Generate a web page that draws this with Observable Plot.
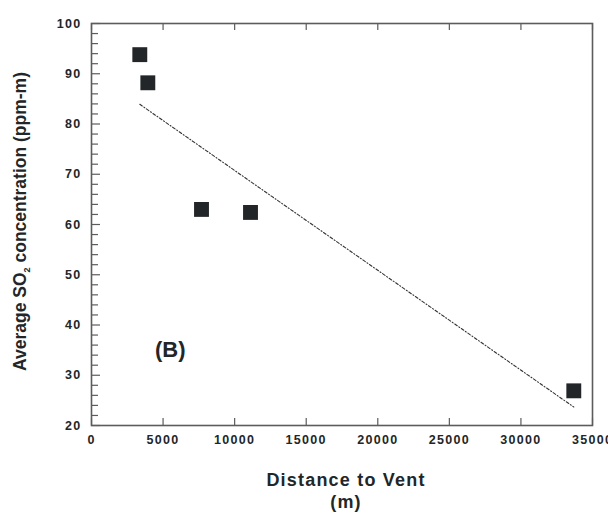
<!DOCTYPE html>
<html>
<head>
<meta charset="utf-8">
<script src="https://cdn.jsdelivr.net/npm/d3@7"></script>
<script src="https://cdn.jsdelivr.net/npm/@observablehq/plot@0.6"></script>
<style>
  html, body { margin: 0; padding: 0; background: #fff; }
  #chart { width: 608px; height: 512px; overflow: hidden; }
</style>
</head>
<body>
<div id="chart"></div>
<script>
// Data
const distance = [3374, 3935, 7685, 11108, 33693];
const so2 = [93.8, 88.2, 63.0, 62.4, 26.9];

const xTicks = [0, 5000, 10000, 15000, 20000, 25000, 30000, 35000];
const yTicks = [20, 30, 40, 50, 60, 70, 80, 90, 100];
const yMinorTicks = [22, 24, 26, 28, 32, 34, 36, 38, 42, 44, 46, 48, 52, 54, 56, 58, 62, 64, 66, 68, 72, 74, 76, 78, 82, 84, 86, 88, 92, 94, 96, 98];

const panelLabel = "(B)";
const panelPos = [5500, 35];
const xLabel1 = "Distance to Vent";
const xLabel2 = "(m)";
const yLabel = "Average SO2 concentration (ppm-m)";

const data = distance.map((d, i) => ({x: d, y: so2[i]}));

const ink = "#222628";
const axisGray = "#5c5c5c";

const W = 608, H = 512, mL = 91, mR = 16, mT = 23, mB = 87;
const fw = W - mL - mR, fh = H - mT - mB;

const chart = Plot.plot({
  width: W,
  height: H,
  marginLeft: mL,
  marginRight: mR,
  marginTop: mT,
  marginBottom: mB,
  style: {fontFamily: "'Liberation Sans', Arial, sans-serif", fontWeight: "bold", color: ink, background: "#fff", overflow: "visible"},
  x: {domain: [0, 35000]},
  y: {domain: [20, 100]},
  marks: [
    // inward ticks
    Plot.tickY(yMinorTicks, {y: d => d, insetRight: fw - 7, stroke: axisGray, strokeWidth: 1.2}),
    Plot.tickY(yTicks, {y: d => d, insetRight: fw - 9, stroke: axisGray, strokeWidth: 1.2}),
    Plot.tickX(xTicks, {x: d => d, insetTop: fh - 7, stroke: axisGray, strokeWidth: 1.2}),
    Plot.tickX(xTicks, {x: d => d, insetBottom: fh - 7, stroke: axisGray, strokeWidth: 1.2}),
    // tick labels
    Plot.axisY(yTicks, {anchor: "left", tickSize: 0, tickPadding: 10, fontSize: 12.5, fontWeight: "bold", fill: ink, label: null}),
    Plot.axisX(xTicks, {anchor: "bottom", tickSize: 0, tickPadding: 10, fontSize: 12.5, fontWeight: "bold", fill: ink, label: null, tickFormat: d => String(d)}),
    Plot.frame({stroke: axisGray, strokeWidth: 1.6}),
    // regression line (least-squares fit of the points)
    Plot.linearRegressionY(data, {x: "x", y: "y", ci: 0, stroke: "#333", strokeWidth: 1.1, strokeDasharray: "3,2,1,2"}),
    // points
    Plot.dot(data, {x: "x", y: "y", symbol: "square", r: 8.4, fill: ink, stroke: "none"}),
    // panel label
    Plot.text([panelLabel], {x: () => panelPos[0], y: () => panelPos[1], text: d => d, fontSize: 22, fontWeight: "bold", fill: ink}),
    // axis titles
    Plot.text([xLabel1], {frameAnchor: "bottom", textAnchor: "middle", dx: 4, dy: 60, text: d => d, fontSize: 18, fontWeight: "bold", fill: ink}),
    Plot.text([xLabel2], {frameAnchor: "bottom", textAnchor: "middle", dx: 4, dy: 82, text: d => d, fontSize: 18, fontWeight: "bold", fill: ink}),
    Plot.text([yLabel], {frameAnchor: "left", textAnchor: "middle", dx: -71, dy: -3, rotate: -90, text: d => d, fontSize: 17.5, fontWeight: "bold", fill: ink})
  ]
});

document.getElementById("chart").appendChild(chart);

const ns = "http://www.w3.org/2000/svg";
chart.querySelectorAll("text").forEach(t => {
  const s = t.textContent;
  if (/^\d+$/.test(s)) t.setAttribute("letter-spacing", "1.3");
  else if (s === xLabel1 || s === xLabel2) t.setAttribute("letter-spacing", "1.2");
  else if (s === yLabel) {
    t.textContent = "";
    const a = document.createElementNS(ns, "tspan"); a.textContent = "Average SO";
    const b = document.createElementNS(ns, "tspan"); b.textContent = "2"; b.setAttribute("font-size", "9"); b.setAttribute("dy", "4");
    const c = document.createElementNS(ns, "tspan"); c.textContent = " concentration (ppm-m)"; c.setAttribute("dy", "-4");
    t.append(a, b, c);
  }
});
</script>
</body>
</html>
